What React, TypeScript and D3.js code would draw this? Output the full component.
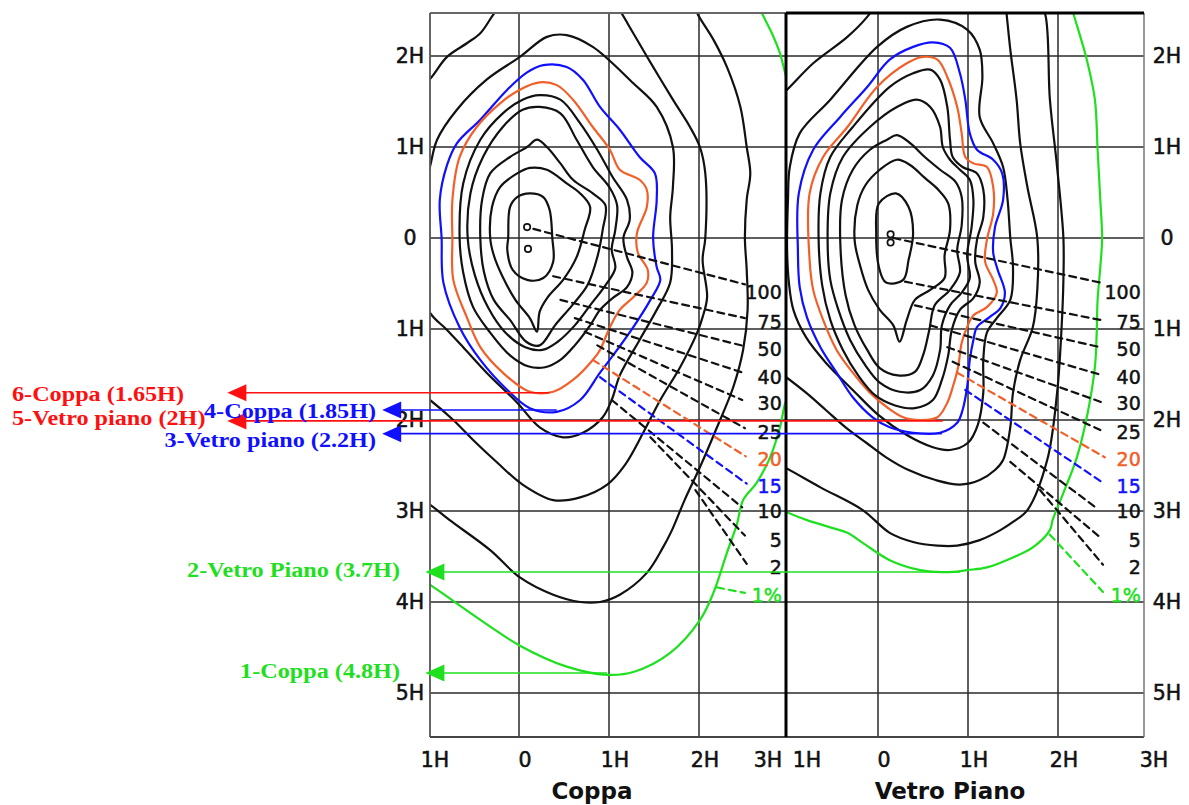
import React from "react";
import * as d3 from "d3";

type P = [number, number];
interface Contour { level: string; closed: boolean; pts: P[]; }

// ---------- axes ----------
const xTickValues = [-1, 0, 1, 2, 3];
const xTickLabels = ["1H", "0", "1H", "2H", "3H"];
const yTickValues = [-2, -1, 0, 1, 2, 3, 4, 5];
const yTickLabels = ["2H", "1H", "0", "1H", "2H", "3H", "4H", "5H"];
const gridX = [0, 1, 2];
const panelTitles = ["Coppa", "Vetro Piano"];

// ---------- contour level labels ----------
const levelLabels = ["100", "75", "50", "40", "30", "25", "20", "15", "10", "5", "2", "1%"];
const levelLabelY = [0.6, 0.92, 1.22, 1.53, 1.81, 2.13, 2.43, 2.73, 3.0, 3.32, 3.62, 3.92];

// ---------- Coppa contours (x: H crosswind, y: H, positive downward) ----------
const coppaContours: Contour[] = [
  { level: "1%", closed: false, pts: [[2.62, -2.65], [2.7, -2.47], [2.81, -2.25], [2.9, -2.03], [2.94, -1.88], [3.03, -1.52]] },
  { level: "1%", closed: false, pts: [[3.07, 1.56], [2.96, 1.81], [2.9, 2.08], [2.79, 2.41], [2.64, 2.69], [2.49, 2.88], [2.42, 3.15], [2.31, 3.46], [2.16, 3.9], [2.01, 4.2], [1.68, 4.56], [1.27, 4.77], [0.98, 4.8], [0.53, 4.71], [0.01, 4.48], [-0.32, 4.27], [-0.99, 3.81], [-1.16, 3.7]] },
  { level: "2", closed: false, pts: [[1.93, -2.6], [1.98, -2.47], [2.16, -2.18], [2.31, -1.88], [2.46, -1.44], [2.53, -1.0], [2.57, -0.71], [2.53, -0.42], [2.51, 0], [2.53, 0.35], [2.54, 0.79], [2.49, 1.23], [2.38, 1.64], [2.2, 2.08], [2.01, 2.52], [1.84, 2.88], [1.7, 3.21], [1.6, 3.4], [1.42, 3.68], [1.12, 3.92], [0.9, 4.0], [0.68, 4.0], [0.38, 3.92], [0.01, 3.73], [-0.32, 3.43], [-0.77, 3.1], [-0.99, 2.93], [-1.32, 2.71]] },
  { level: "5", closed: false, pts: [[-0.21, -2.56], [-0.29, -2.45], [-0.43, -2.25], [-0.58, -2.14], [-0.8, -1.99], [-0.97, -1.77], [-1.1, -1.63], [-1.4, -1.0], [-1.4, 1.5], [-1.1, 1.7], [-0.99, 1.78], [-0.73, 2.0], [-0.51, 2.22], [-0.24, 2.47], [0.04, 2.71], [0.38, 2.88], [0.68, 2.85], [0.98, 2.71], [1.18, 2.49], [1.38, 2.14], [1.57, 1.78], [1.79, 1.42], [1.98, 1.04], [2.04, 0.87], [2.09, 0.65], [2.04, 0.24], [2.07, 0], [2.07, -0.71], [2.01, -1.0], [1.9, -1.22], [1.71, -1.52], [1.49, -1.88], [1.27, -2.25], [1.14, -2.47], [1.07, -2.58]] },
  { level: "10", closed: true, pts: [[-0.99, 0.82], [-0.8, 1.01], [-0.62, 1.2], [-0.36, 1.48], [-0.02, 1.81], [0.23, 2.08], [0.49, 2.19], [0.71, 2.14], [0.93, 1.97], [1.03, 1.78], [1.12, 1.51], [1.34, 1.12], [1.53, 0.79], [1.68, 0.49], [1.7, 0.13], [1.68, -0.23], [1.71, -0.56], [1.71, -1.0], [1.53, -1.44], [1.27, -1.7], [0.82, -2.1], [0.53, -2.23], [0.31, -2.21], [0.01, -1.99], [-0.36, -1.74], [-0.69, -1.41], [-0.91, -1.08], [-0.99, -0.78], [-1.15, -0.2], [-1.15, 0.4]] },
  { level: "15", closed: true, pts: [[-0.86, 0], [-0.88, -0.42], [-0.8, -0.8], [-0.69, -1.04], [-0.43, -1.3], [-0.13, -1.63], [0.09, -1.82], [0.27, -1.9], [0.53, -1.88], [0.71, -1.74], [0.9, -1.44], [1.12, -1.19], [1.34, -0.89], [1.51, -0.71], [1.53, -0.42], [1.49, 0], [1.53, 0.32], [1.57, 0.46], [1.46, 0.68], [1.27, 0.98], [1.09, 1.23], [0.9, 1.48], [0.68, 1.78], [0.42, 1.91], [0.12, 1.87], [-0.13, 1.67], [-0.43, 1.34], [-0.66, 0.98], [-0.84, 0.49]] },
  { level: "20", closed: true, pts: [[-0.74, 0], [-0.74, -0.42], [-0.66, -0.89], [-0.47, -1.22], [-0.21, -1.48], [0.01, -1.63], [0.23, -1.71], [0.42, -1.68], [0.6, -1.52], [0.82, -1.22], [1.01, -0.97], [1.12, -0.75], [1.34, -0.64], [1.42, -0.53], [1.42, -0.34], [1.31, -0.05], [1.32, 0.16], [1.43, 0.35], [1.42, 0.49], [1.27, 0.65], [1.12, 0.79], [1.01, 0.98], [0.9, 1.23], [0.82, 1.34], [0.6, 1.56], [0.38, 1.69], [0.12, 1.69], [-0.18, 1.48], [-0.43, 1.2], [-0.58, 0.87], [-0.73, 0.46]] },
  { level: "25", closed: true, pts: [[-0.66, 0], [-0.62, -0.6], [-0.43, -1.08], [-0.18, -1.37], [0.04, -1.52], [0.23, -1.57], [0.46, -1.52], [0.68, -1.26], [0.87, -0.97], [1.04, -0.67], [1.2, -0.42], [1.23, -0.2], [1.16, 0], [1.2, 0.21], [1.26, 0.38], [1.2, 0.54], [1.04, 0.66], [0.9, 0.79], [0.79, 0.96], [0.62, 1.18], [0.46, 1.34], [0.29, 1.42], [0.1, 1.41], [-0.1, 1.29], [-0.32, 1.04], [-0.51, 0.76], [-0.62, 0.38]] },
  { level: "30", closed: true, pts: [[-0.57, 0], [-0.54, -0.49], [-0.4, -0.89], [-0.18, -1.22], [0.04, -1.41], [0.23, -1.44], [0.46, -1.37], [0.64, -1.08], [0.82, -0.78], [1.01, -0.55], [1.09, -0.36], [1.07, -0.09], [1.03, 0.13], [1.07, 0.33], [0.96, 0.52], [0.79, 0.74], [0.62, 0.96], [0.43, 1.14], [0.26, 1.23], [0.07, 1.2], [-0.16, 1.03], [-0.34, 0.77], [-0.49, 0.41]] },
  { level: "40", closed: true, pts: [[-0.43, 0], [-0.41, -0.42], [-0.32, -0.71], [-0.1, -0.89], [0.09, -1.0], [0.2, -1.08], [0.31, -1.0], [0.46, -0.82], [0.6, -0.64], [0.82, -0.49], [0.96, -0.36], [0.93, -0.09], [0.87, 0.21], [0.76, 0.52], [0.59, 0.74], [0.4, 0.96], [0.23, 1.18], [0.08, 1.14], [-0.1, 0.9], [-0.28, 0.68], [-0.39, 0.37]] },
  { level: "50", closed: true, pts: [[-0.32, 0], [-0.3, -0.34], [-0.21, -0.56], [-0.02, -0.71], [0.12, -0.77], [0.31, -0.75], [0.53, -0.6], [0.68, -0.49], [0.79, -0.34], [0.73, -0.09], [0.64, 0.21], [0.49, 0.46], [0.32, 0.65], [0.23, 0.81], [0.2, 1.03], [0.12, 0.88], [-0.04, 0.68], [-0.19, 0.41], [-0.28, 0.19]] },
  { level: "75", closed: true, pts: [[-0.12, 0], [-0.1, -0.34], [-0.02, -0.45], [0.12, -0.49], [0.27, -0.45], [0.34, -0.31], [0.37, 0], [0.38, 0.26], [0.27, 0.44], [0.09, 0.46], [-0.07, 0.35], [-0.13, 0.13]] },
];
const coppaPeaks: P[] = [[0.09, -0.12], [0.1, 0.12]];
const coppaLeaders: [P, P][] = [
  [[0.16, -0.1], [2.51, 0.51]],
  [[0.38, 0.42], [2.51, 0.88]],
  [[0.46, 0.68], [2.51, 1.19]],
  [[0.62, 0.88], [2.49, 1.48]],
  [[0.73, 1.03], [2.48, 1.78]],
  [[0.87, 1.18], [2.51, 2.09]],
  [[0.82, 1.34], [2.52, 2.4]],
  [[0.9, 1.53], [2.53, 2.7]],
  [[1.03, 1.78], [2.48, 2.96]],
  [[1.46, 2.19], [2.51, 3.27]],
  [[1.96, 2.77], [2.53, 3.58]],
  [[2.2, 3.84], [2.51, 3.9]],
];

// ---------- Vetro Piano contours ----------
const vetroContours: Contour[] = [
  { level: "1%", closed: false, pts: [[2.12, -2.65], [2.17, -2.47], [2.32, -1.96], [2.41, -1.52], [2.44, -0.97], [2.47, -0.42], [2.49, 0], [2.47, 0.32], [2.44, 0.68], [2.43, 1.04], [2.41, 1.42], [2.33, 1.92], [2.21, 2.41], [2.06, 2.8], [1.94, 3.1], [1.91, 3.21], [1.72, 3.4], [1.5, 3.51], [1.21, 3.62], [0.99, 3.65], [0.83, 3.67], [0.66, 3.67], [0.47, 3.65], [0.13, 3.54], [-0.17, 3.35], [-0.34, 3.24], [-0.53, 3.18], [-0.79, 3.1], [-1.02, 3.01], [-1.2, 2.93]] },
  { level: "2", closed: false, pts: [[1.78, -2.62], [1.86, -2.45], [1.91, -1.52], [1.99, -0.78], [2.06, 0], [2.06, 0.46], [2.04, 0.98], [1.99, 1.7], [1.88, 2.44], [1.66, 2.99], [1.5, 3.12], [1.36, 3.21], [1.13, 3.32], [0.88, 3.38], [0.66, 3.38], [0.39, 3.34], [0.13, 3.24], [-0.17, 2.99], [-0.64, 2.74], [-1.02, 2.53], [-1.31, 2.38]] },
  { level: "5", closed: false, pts: [[-0.03, -2.56], [-0.12, -2.43], [-0.34, -2.21], [-0.72, -1.92], [-1.01, -1.63], [-1.2, -1.46], [-1.4, -0.5], [-1.4, 1.2], [-1.2, 1.4], [-1.02, 1.53], [-0.8, 1.7], [-0.58, 1.89], [-0.36, 2.08], [-0.13, 2.25], [0.09, 2.41], [0.34, 2.55], [0.64, 2.66], [0.91, 2.71], [1.13, 2.66], [1.3, 2.55], [1.39, 2.44], [1.47, 2.08], [1.5, 1.7], [1.58, 1.34], [1.72, 0.98], [1.77, 0.57], [1.77, 0], [1.66, -0.56], [1.58, -1.04], [1.54, -1.52], [1.47, -2.07], [1.43, -2.45], [1.41, -2.62]] },
  { level: "10", closed: true, pts: [[-0.98, -0.78], [-0.87, -1.15], [-0.53, -1.52], [-0.01, -2.1], [0.32, -2.32], [0.69, -2.4], [0.99, -2.29], [1.13, -2.07], [1.16, -1.77], [1.13, -1.33], [1.28, -1.04], [1.39, -0.78], [1.44, -0.42], [1.47, 0], [1.5, 0.32], [1.47, 0.68], [1.32, 0.88], [1.21, 1.04], [1.17, 1.34], [1.17, 1.7], [1.11, 2.05], [1.0, 2.25], [0.8, 2.33], [0.61, 2.3], [0.31, 2.16], [0.01, 1.95], [-0.28, 1.67], [-0.58, 1.37], [-0.8, 1.09], [-0.94, 0.79], [-0.99, 0.49], [-1.01, 0.13], [-1.0, -0.42]] },
  { level: "15", closed: true, pts: [[-0.89, 0.13], [-0.88, -0.49], [-0.72, -0.97], [-0.42, -1.33], [-0.12, -1.66], [0.13, -1.96], [0.39, -2.1], [0.61, -2.15], [0.8, -2.09], [0.91, -1.81], [0.97, -1.52], [1.02, -1.15], [1.1, -0.97], [1.28, -0.86], [1.38, -0.71], [1.39, -0.42], [1.3, -0.12], [1.28, 0.16], [1.33, 0.35], [1.41, 0.6], [1.36, 0.77], [1.24, 0.87], [1.1, 0.98], [1.06, 1.12], [1.02, 1.34], [0.99, 1.64], [0.94, 1.89], [0.88, 2.03], [0.69, 2.14], [0.39, 2.14], [0.13, 2.08], [-0.06, 1.97], [-0.28, 1.75], [-0.46, 1.48], [-0.64, 1.2], [-0.79, 0.87], [-0.87, 0.54]] },
  { level: "20", closed: true, pts: [[-0.76, 0.24], [-0.76, -0.49], [-0.61, -0.89], [-0.34, -1.22], [-0.01, -1.66], [0.32, -1.92], [0.5, -1.99], [0.66, -1.96], [0.77, -1.77], [0.88, -1.44], [0.93, -1.15], [0.97, -0.89], [1.06, -0.82], [1.21, -0.78], [1.28, -0.56], [1.28, -0.27], [1.21, 0.02], [1.19, 0.26], [1.28, 0.46], [1.32, 0.6], [1.21, 0.76], [1.06, 0.85], [0.99, 0.98], [0.93, 1.15], [0.89, 1.42], [0.83, 1.64], [0.77, 1.81], [0.66, 1.97], [0.47, 2.0], [0.28, 1.97], [0.1, 1.86], [-0.09, 1.7], [-0.28, 1.48], [-0.46, 1.23], [-0.61, 0.9], [-0.72, 0.57]] },
  { level: "25", closed: true, pts: [[-0.66, 0.01], [-0.64, -0.49], [-0.53, -0.89], [-0.28, -1.22], [0.13, -1.66], [0.39, -1.81], [0.58, -1.85], [0.69, -1.74], [0.77, -1.44], [0.8, -1.08], [0.83, -0.89], [0.94, -0.78], [1.1, -0.71], [1.17, -0.53], [1.17, -0.23], [1.1, 0.02], [1.08, 0.26], [1.13, 0.49], [1.06, 0.66], [0.91, 0.79], [0.82, 1.01], [0.78, 1.29], [0.71, 1.56], [0.61, 1.78], [0.41, 1.87], [0.19, 1.84], [-0.03, 1.73], [-0.22, 1.51], [-0.39, 1.23], [-0.53, 0.9], [-0.62, 0.52]] },
  { level: "30", closed: true, pts: [[-0.56, 0.02], [-0.53, -0.49], [-0.39, -0.89], [-0.09, -1.22], [0.21, -1.44], [0.43, -1.52], [0.58, -1.44], [0.69, -1.22], [0.72, -1.0], [0.8, -0.86], [0.91, -0.75], [1.02, -0.64], [1.06, -0.42], [1.04, -0.12], [0.99, 0.19], [1.02, 0.44], [0.93, 0.6], [0.8, 0.74], [0.71, 0.96], [0.69, 1.23], [0.61, 1.51], [0.47, 1.67], [0.24, 1.69], [0.02, 1.59], [-0.14, 1.4], [-0.31, 1.12], [-0.44, 0.79], [-0.53, 0.46]] },
  { level: "40", closed: true, pts: [[-0.42, 0.02], [-0.4, -0.42], [-0.28, -0.75], [-0.09, -0.97], [0.1, -1.08], [0.21, -1.13], [0.36, -1.04], [0.52, -0.89], [0.69, -0.75], [0.86, -0.62], [0.93, -0.45], [0.93, -0.14], [0.88, 0.13], [0.91, 0.38], [0.8, 0.57], [0.63, 0.74], [0.57, 1.01], [0.5, 1.29], [0.41, 1.47], [0.22, 1.51], [0.02, 1.43], [-0.12, 1.23], [-0.26, 0.96], [-0.36, 0.63]] },
  { level: "50", closed: true, pts: [[-0.26, 0.02], [-0.23, -0.36], [-0.14, -0.58], [0.02, -0.75], [0.21, -0.86], [0.36, -0.8], [0.52, -0.66], [0.67, -0.53], [0.78, -0.38], [0.8, -0.09], [0.74, 0.19], [0.74, 0.44], [0.58, 0.57], [0.41, 0.68], [0.32, 0.9], [0.24, 1.14], [0.17, 0.96], [0.02, 0.79], [-0.11, 0.57], [-0.2, 0.3]] },
  { level: "75", closed: true, pts: [[0.01, -0.38], [0.2, -0.49], [0.34, -0.34], [0.39, -0.05], [0.34, 0.24], [0.28, 0.46], [0.09, 0.49], [0.01, 0.32], [-0.02, -0.05]] },
];
const vetroPeaks: P[] = [[0.14, -0.04], [0.14, 0.05]];
const vetroLeaders: [P, P][] = [
  [[0.17, 0], [2.47, 0.49]],
  [[0.3, 0.48], [2.47, 0.9]],
  [[0.41, 0.74], [2.47, 1.2]],
  [[0.58, 0.96], [2.5, 1.51]],
  [[0.77, 1.2], [2.5, 1.81]],
  [[0.83, 1.36], [2.47, 2.11]],
  [[0.88, 1.48], [2.52, 2.41]],
  [[0.97, 1.67], [2.5, 2.69]],
  [[1.17, 2.03], [2.43, 2.97]],
  [[1.47, 2.46], [2.47, 3.29]],
  [[1.8, 2.77], [2.5, 3.59]],
  [[1.91, 3.26], [2.5, 3.89]],
];

// ---------- distance annotations ----------
const annotationTexts = ["6-Coppa (1.65H)", "5-Vetro piano (2H)", "4-Coppa (1.85H)", "3-Vetro piano (2.2H)", "2-Vetro Piano (3.7H)", "1-Coppa (4.8H)"];
const annotationY = [1.7, 2.01, 1.89, 2.15, 3.67, 4.78];
const annotationTipX = [-3.24, -3.24, -1.52, -1.52, -1.04, -1.04]; // in Coppa panel units
const annotationEndPanel = [0, 1, 0, 1, 1, 0];
const annotationEndX = [0.34, 0.72, 0.42, 0.71, 0.91, 0.98];
const annotationKind = ["red", "red", "blue", "blue", "green", "green"];

// ---------- layout / style ----------
const W = 1189, HH = 805;
const TOP = 13, BOTTOM = 737, LEFT = 430, MID = 786, RIGHT = 1144;
const SANS = "'DejaVu Sans', Verdana, sans-serif";
const SERIF = "'Liberation Serif', 'Times New Roman', serif";
const COL: Record<string, string> = { red: "#ff1010", blue: "#1010ff", green: "#1ee01e", orange: "#f2602a", black: "#111" };
const levelColor = (l: string) => (l === "20" ? COL.orange : l === "15" ? COL.blue : l === "1%" ? COL.green : COL.black);
const annLayout = [
  { anchor: "start", x: 12, dy: 8 },
  { anchor: "start", x: 12, dy: 4 },
  { anchor: "end", x: 376, dy: 8 },
  { anchor: "end", x: 376, dy: 13 },
  { anchor: "end", x: 400, dy: 5 },
  { anchor: "end", x: 400, dy: 5 },
];

const yS = d3.scaleLinear().domain([0, 5]).range([238, 693]);
const xCoppa = d3.scaleLinear().domain([-1, 3]).range([429, 789]);
const xVetro = d3.scaleLinear().domain([-1, 3]).range([788, 1148]);

const panels = [
  { id: "coppa", x: xCoppa, x0: LEFT, x1: MID, contours: coppaContours, peaks: coppaPeaks, leaders: coppaLeaders, title: panelTitles[0], titleX: 592, yLabX: 410 },
  { id: "vetro", x: xVetro, x0: MID, x1: RIGHT, contours: vetroContours, peaks: vetroPeaks, leaders: vetroLeaders, title: panelTitles[1], titleX: 950, yLabX: 1167 },
];

export default function App() {
  return (
    <svg width={W} height={HH} style={{ position: "absolute", left: 0, top: 0, background: "#fff" }}>
      <defs>
        {panels.map((p) => (
          <clipPath id={`clip-${p.id}`} key={p.id}>
            <rect x={p.x0} y={TOP} width={p.x1 - p.x0} height={BOTTOM - TOP} />
          </clipPath>
        ))}
      </defs>
      <rect width={W} height={HH} fill="#fff" />
      {panels.map((p, pi) => {
        const lineOpen = d3.line<P>().x((d) => p.x(d[0])).y((d) => yS(d[1])).curve(d3.curveCatmullRom.alpha(0.5));
        const lineClosed = d3.line<P>().x((d) => p.x(d[0])).y((d) => yS(d[1])).curve(d3.curveCatmullRomClosed.alpha(0.5));
        return (
          <g key={p.id}>
            {/* grid */}
            <g stroke="#2a2a2a" strokeWidth={1.5}>
              {gridX.map((v) => (
                <line key={`gx${v}`} x1={p.x(v)} x2={p.x(v)} y1={TOP} y2={BOTTOM} />
              ))}
              {yTickValues.map((v) => (
                <line key={`gy${v}`} x1={p.x0} x2={p.x1} y1={yS(v)} y2={yS(v)} />
              ))}
            </g>
            {/* contours */}
            <g clipPath={`url(#clip-${p.id})`} fill="none" strokeLinejoin="round" strokeLinecap="round">
              {p.contours.map((c, i) => (
                <path key={i} d={(c.closed ? lineClosed : lineOpen)(c.pts) || ""} stroke={levelColor(c.level)} strokeWidth={2.2} />
              ))}
              {p.peaks.map((d, i) => (
                <circle key={`pk${i}`} cx={p.x(d[0])} cy={yS(d[1])} r={3.2} stroke="#111" strokeWidth={1.7} fill="#fff" />
              ))}
              {p.leaders.map((l, i) => (
                <line key={`ld${i}`} x1={p.x(l[0][0])} y1={yS(l[0][1])} x2={p.x(l[1][0])} y2={yS(l[1][1])}
                  stroke={levelColor(levelLabels[i])} strokeWidth={2.2} strokeDasharray="7,5" />
              ))}
            </g>
            {/* level labels */}
            {levelLabels.map((t, i) => (
              <text key={`ll${i}`} x={p.x(2.92)} y={yS(levelLabelY[i])} dy="0.36em" textAnchor="end"
                fontFamily={SANS} fontSize={19} fill={levelColor(t)} stroke={levelColor(t)} strokeWidth={0.5}>{t}</text>
            ))}
            {/* y tick labels */}
            {yTickValues.map((v, i) => (
              <text key={`yl${v}`} x={p.yLabX} y={yS(v)} dy="0.36em" textAnchor="middle" fontFamily={SANS} fontSize={20.5}
                fill="#111" stroke="#111" strokeWidth={0.55}>
                {yTickLabels[i]}
              </text>
            ))}
            {/* x tick labels */}
            {xTickValues.map((v, i) => {
              let cx = p.x(v) + 6;
              if (pi === 0) cx = Math.min(cx, MID - 18);
              else cx = Math.max(cx, MID + 21);
              return (
                <text key={`xl${v}`} x={cx} y={767} textAnchor="middle" fontFamily={SANS} fontSize={20.5}
                  fill="#111" stroke="#111" strokeWidth={0.55}>
                  {xTickLabels[i]}
                </text>
              );
            })}
            <text x={p.titleX} y={799} textAnchor="middle" fontFamily={SANS} fontWeight="bold" fontSize={23} fill="#111">
              {p.title}
            </text>
          </g>
        );
      })}
      {/* frame */}
      <g fill="none">
        <line x1={LEFT} x2={MID} y1={TOP} y2={TOP} stroke="#666" strokeWidth={2} />
        <line x1={LEFT} x2={LEFT} y1={TOP} y2={BOTTOM} stroke="#555" strokeWidth={1.8} />
        <line x1={LEFT} x2={RIGHT} y1={BOTTOM} y2={BOTTOM} stroke="#444" strokeWidth={2} />
        <line x1={RIGHT} x2={RIGHT} y1={TOP} y2={BOTTOM} stroke="#777" strokeWidth={1.5} />
        <line x1={MID} x2={RIGHT} y1={TOP} y2={TOP} stroke="#000" strokeWidth={3} />
        <line x1={MID} x2={MID} y1={TOP} y2={BOTTOM} stroke="#000" strokeWidth={3} />
      </g>
      {/* annotations */}
      {annotationTexts.map((t, i) => {
        const col = COL[annotationKind[i]];
        const y = yS(annotationY[i]);
        const tip = xCoppa(annotationTipX[i]);
        const end = (annotationEndPanel[i] === 0 ? xCoppa : xVetro)(annotationEndX[i]);
        const lay = annLayout[i];
        return (
          <g key={`an${i}`}>
            <line x1={tip + 4} x2={end} y1={y} y2={y} stroke={col} strokeWidth={1.6} />
            <polygon points={`${tip},${y} ${tip + 19},${y - 8.5} ${tip + 19},${y + 8.5}`} fill={col} />
            <text transform={`translate(${lay.x},${y + lay.dy}) scale(1.1,1)`} textAnchor={lay.anchor as any}
              fontFamily={SERIF} fontWeight="bold" fontSize={22} fill={col}>{t}</text>
          </g>
        );
      })}
    </svg>
  );
}
